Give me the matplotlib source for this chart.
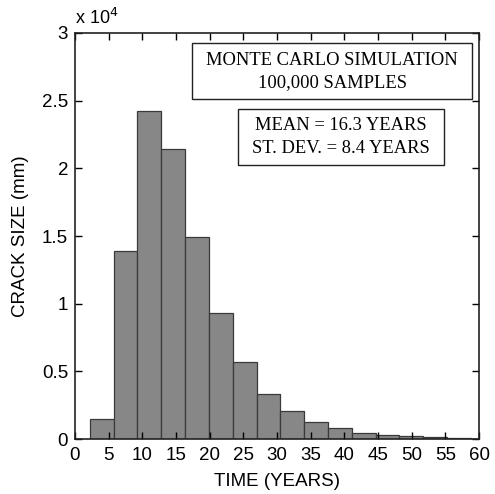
import numpy as np
import matplotlib
matplotlib.use("Agg")
import matplotlib.pyplot as plt
from matplotlib.patches import Rectangle

# Data
t_min, t_max = 2.2, 58.8  # years, range of histogram
counts = [1500, 13900, 24200, 21400, 14900, 9300, 5700, 3350,
          2050, 1250, 830, 480, 310, 220, 150, 100]
x_ticks = [0, 5, 10, 15, 20, 25, 30, 35, 40, 45, 50, 55, 60]
y_ticks = [0, 5000, 10000, 15000, 20000, 25000, 30000]
y_tick_labels = ["0", "0.5", "1", "1.5", "2", "2.5", "3"]
box1_lines = ["MONTE CARLO SIMULATION", "100,000 SAMPLES"]
box2_lines = ["MEAN = 16.3 YEARS", "ST. DEV. = 8.4 YEARS"]

edges = np.linspace(t_min, t_max, len(counts) + 1)
widths = np.diff(edges)

fig = plt.figure(figsize=(4.95, 4.94), dpi=100)
ax = fig.add_axes([0.1515, 0.1113, 0.8162, 0.8219])

ax.bar(edges[:-1], counts, width=widths, align="edge",
       color="#878787", edgecolor="#3a3a3a", linewidth=0.9)

ax.set_xlim(0, 60)
ax.set_ylim(0, 30000)
ax.set_xticks(x_ticks)
ax.set_yticks(y_ticks)
ax.set_yticklabels(y_tick_labels)
ax.tick_params(direction="in", top=True, right=True, length=5, width=1,
               labelsize=13.5)
ax.tick_params(axis="x", pad=6)
ax.tick_params(axis="y", pad=5)
for lab in ax.get_xticklabels() + ax.get_yticklabels():
    lab.set_family("Liberation Sans")
for s in ax.spines.values():
    s.set_linewidth(1.2)
    s.set_color("#222222")

ax.set_xlabel("TIME (YEARS)", family="Liberation Sans", fontsize=13.5, labelpad=6)
ax.set_ylabel("CRACK SIZE (mm)", family="Liberation Sans", fontsize=13.5, labelpad=9)

ax.text(0.0, 1.012, r"x 10$^4$", transform=ax.transAxes, family="Liberation Sans",
        fontsize=13, ha="left", va="bottom")

# Annotation boxes
r1 = Rectangle((0.290, 0.837), 0.693, 0.138, transform=ax.transAxes,
               facecolor="white", edgecolor="#222222", linewidth=1.0)
r2 = Rectangle((0.403, 0.675), 0.510, 0.138, transform=ax.transAxes,
               facecolor="white", edgecolor="#222222", linewidth=1.0)
ax.add_patch(r1)
ax.add_patch(r2)
ax.text(0.637, 0.906, "\n".join(box1_lines), transform=ax.transAxes,
        family="Liberation Serif", fontsize=13.3, ha="center", va="center",
        linespacing=1.4)
ax.text(0.658, 0.744, "\n".join(box2_lines), transform=ax.transAxes,
        family="Liberation Serif", fontsize=13.3, ha="center", va="center",
        linespacing=1.5)

fig.savefig("out.png", dpi=100)
